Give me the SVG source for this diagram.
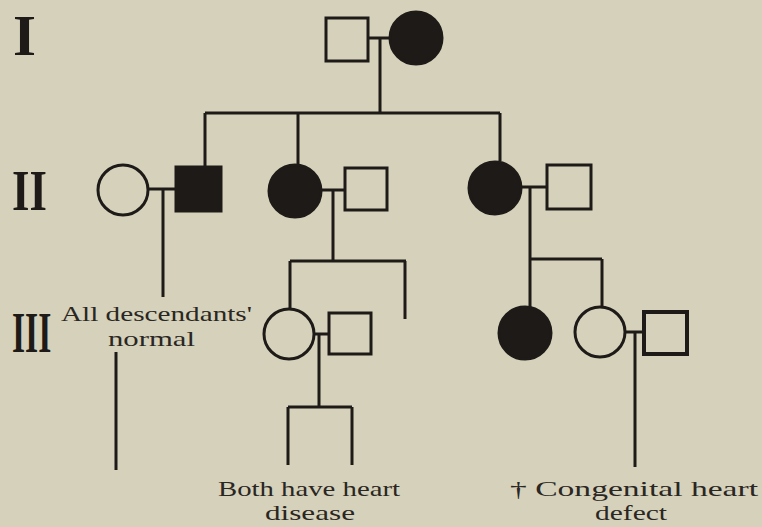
<svg xmlns="http://www.w3.org/2000/svg" width="762" height="527" viewBox="0 0 762 527">
<style>
.bg{fill:#d5d1bb}
.open{fill:none;stroke:#1e1a17;stroke-width:3}
.fill{fill:#1e1a17;stroke:#1e1a17;stroke-width:3}
.ln{fill:none;stroke:#1e1a17;stroke-width:3;stroke-linecap:butt}
.gen{font-family:"Liberation Serif",serif;font-weight:bold;fill:#1e1a17;font-size:56px}
.lbl{font-family:"Liberation Serif",serif;fill:#2a2622;font-size:21px}
</style>
<rect class="bg" x="0" y="0" width="762" height="527"/>
<g id="generation-labels">
<text class="gen" x="13" y="55" textLength="23" lengthAdjust="spacingAndGlyphs">I</text>
<text class="gen" transform="translate(12,210) scale(0.8,1)" x="0" y="0">II</text>
<text class="gen" transform="translate(12,352) scale(0.6,1)" x="0" y="0">III</text>
</g>
<g id="connectors">
<path class="ln" d="M369 38H389M380 38V113M205 113H500M205 113V166M298 113V165M500 113V161"/>
<path class="ln" d="M148 189H175M163 189V297M116 352V470"/>
<path class="ln" d="M322 190H344M333 190V261M290 261H406M290 261V309M405 261V319"/>
<path class="ln" d="M522 187H546M530 187V259M530 259H602M530 259V307M602 259V307"/>
<path class="ln" d="M314 334H328M319 334V407M288 407H352M288 407V465M352 407V465"/>
<path class="ln" d="M626 332H643M635 332V467"/>
</g>
<g id="I-1"><rect class="open" x="326" y="18" width="42" height="43"/></g>
<g id="I-2"><circle class="fill" cx="416" cy="38" r="26"/></g>
<g id="II-1"><circle class="open" cx="123" cy="190" r="25"/></g>
<g id="II-2"><rect class="fill" x="176" y="167" width="45" height="44"/></g>
<g id="II-3"><circle class="fill" cx="295" cy="191" r="26"/></g>
<g id="II-4"><rect class="open" x="345" y="168" width="42" height="42"/></g>
<g id="II-5"><circle class="fill" cx="495" cy="188" r="26"/></g>
<g id="II-6"><rect class="open" x="547" y="165" width="44" height="44"/></g>
<g id="III-1"><circle class="open" cx="289" cy="334" r="25"/></g>
<g id="III-2"><rect class="open" x="329" y="313" width="42" height="41"/></g>
<g id="III-4"><circle class="fill" cx="525" cy="333" r="26"/></g>
<g id="III-5"><circle class="open" cx="600" cy="332" r="25"/></g>
<g id="III-6"><rect x="644" y="312" width="43" height="42" fill="none" stroke="#1e1a17" stroke-width="4"/></g>
<g id="labels">
<text class="lbl" x="61" y="321" textLength="191" lengthAdjust="spacingAndGlyphs">All descendants'</text>
<text class="lbl" x="108" y="346" textLength="87" lengthAdjust="spacingAndGlyphs">normal</text>
<text class="lbl" x="218" y="496" textLength="182" lengthAdjust="spacingAndGlyphs">Both have heart</text>
<text class="lbl" x="265" y="520" textLength="90" lengthAdjust="spacingAndGlyphs">disease</text>
<text class="lbl" x="510" y="496" textLength="248" lengthAdjust="spacingAndGlyphs">† Congenital heart</text>
<text class="lbl" x="595" y="520" textLength="72" lengthAdjust="spacingAndGlyphs">defect</text>
</g>
</svg>
